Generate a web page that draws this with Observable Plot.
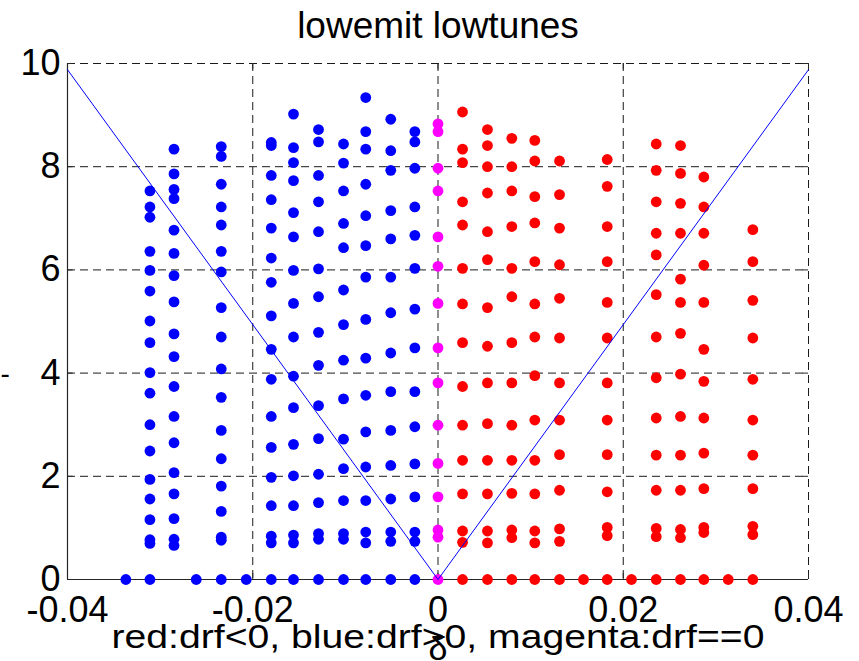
<!DOCTYPE html>
<html><head><meta charset="utf-8">
<script src="https://cdn.jsdelivr.net/npm/d3@7"></script>
<script src="https://cdn.jsdelivr.net/npm/@observablehq/plot@0.6"></script>
<style>html,body{margin:0;padding:0;background:#fff;}</style>
</head><body><div id="chart"></div>
<script>
const titleText = "lowemit lowtunes";
const captionText = "red:drf<0, blue:drf>0, magenta:drf==0";
const xLabelText = "δ";
const yLabelText = "-";
const xTicks = [-0.04, -0.02, 0, 0.02, 0.04];
const xTickLabels = ["-0.04", "-0.02", "0", "0.02", "0.04"];
const yTicks = [0, 2, 4, 6, 8, 10];
const yTickLabels = ["0", "2", "4", "6", "8", "10"];

// blue: drf > 0
const blueX = [-0.0337, -0.0311, -0.0285, -0.0261, -0.0234, -0.0207, -0.0180, -0.0156, -0.0129, -0.0102, -0.0078, -0.0051, -0.0025];
const blueY = [
  [0],
  [7.53, 7.22, 7.02, 6.36, 5.99, 5.59, 5.01, 4.59, 4.01, 3.61, 3.00, 2.49, 1.94, 1.56, 1.16, 0.77, 0.70, 0],
  [8.34, 7.86, 7.56, 7.38, 6.77, 6.32, 5.89, 5.38, 4.76, 4.32, 3.74, 3.16, 2.65, 2.07, 1.66, 1.18, 0.78, 0.66],
  [0],
  [8.39, 8.20, 7.66, 7.22, 6.87, 6.36, 5.96, 5.27, 4.70, 4.08, 3.53, 2.89, 2.34, 1.81, 1.32, 0.82, 0.76, 0],
  [0],
  [8.47, 8.41, 7.83, 7.36, 6.81, 6.23, 5.76, 5.11, 4.46, 3.88, 3.16, 2.56, 1.98, 1.43, 0.84, 0.71, 0],
  [9.02, 8.37, 8.08, 7.73, 7.11, 6.64, 5.99, 5.35, 4.70, 3.94, 3.33, 2.62, 2.01, 1.43, 0.86, 0.71, 0],
  [8.72, 8.48, 7.83, 7.32, 6.74, 6.02, 5.48, 4.79, 4.15, 3.37, 2.73, 2.04, 1.49, 0.89, 0.78, 0],
  [8.44, 8.07, 7.53, 6.90, 6.43, 5.61, 4.94, 4.25, 3.50, 2.72, 2.15, 1.53, 0.89, 0.78, 0],
  [9.34, 8.68, 8.34, 7.66, 7.05, 6.47, 5.86, 5.04, 4.29, 3.57, 2.86, 2.18, 1.53, 0.92, 0.71, 0],
  [8.92, 8.31, 7.93, 7.15, 6.60, 5.86, 5.17, 4.39, 3.64, 2.89, 2.21, 1.56, 0.92, 0.74, 0],
  [8.68, 8.48, 7.97, 7.22, 6.67, 6.03, 5.24, 4.49, 3.64, 2.96, 2.24, 1.60, 0.92, 0.74, 0]
];

// magenta: drf == 0
const magentaX = [0];
const magentaY = [
  [8.83, 8.68, 7.97, 7.53, 6.64, 6.07, 5.35, 4.49, 3.81, 2.99, 2.25, 1.60, 0.96, 0.82, 0]
];

// red: drf < 0
const redX = [0.00265, 0.00534, 0.00797, 0.01045, 0.01312, 0.01571, 0.01827, 0.02089, 0.02356, 0.02618, 0.02870, 0.03133, 0.03399];
const redY = [
  [9.06, 8.34, 8.08, 7.32, 6.87, 6.03, 5.34, 4.59, 3.74, 2.99, 2.31, 1.66, 0.94, 0.72, 0],
  [8.72, 8.41, 8.00, 7.49, 6.74, 6.20, 5.27, 4.52, 3.81, 3.02, 2.31, 1.66, 0.94, 0.71, 0],
  [8.55, 8.00, 7.53, 6.84, 6.03, 5.48, 4.59, 3.81, 2.99, 2.31, 1.67, 0.96, 0.81, 0],
  [8.51, 8.11, 7.42, 6.91, 6.16, 5.34, 4.70, 3.95, 3.09, 2.31, 1.66, 0.94, 0.71, 0],
  [8.11, 7.46, 6.81, 6.10, 5.45, 4.68, 3.81, 3.09, 2.42, 1.73, 0.98, 0.74, 0],
  [0],
  [8.14, 7.62, 6.84, 6.16, 5.37, 4.68, 3.81, 3.09, 2.42, 1.70, 1.01, 0.85, 0],
  [0],
  [8.44, 7.93, 7.32, 6.71, 6.29, 5.52, 4.70, 3.91, 3.13, 2.41, 1.73, 0.99, 0.83, 0],
  [8.41, 7.87, 7.29, 6.71, 5.82, 5.37, 4.77, 3.98, 3.16, 2.41, 1.73, 0.97, 0.81, 0],
  [7.80, 7.22, 6.71, 6.09, 5.37, 4.46, 3.84, 3.13, 2.45, 1.76, 1.01, 0.91, 0],
  [0],
  [6.78, 6.16, 5.41, 4.68, 3.88, 3.09, 2.41, 1.76, 1.03, 0.87, 0]
];

// V-shaped reference line
const lineX = [-0.04, 0, 0.04];
const lineY = [9.88, 0, 9.88];

const toPoints = (xs, yss) => xs.flatMap((x, i) => yss[i].map(y => ({x, y})));
const bluePts = toPoints(blueX, blueY);
const magentaPts = toPoints(magentaX, magentaY);
const redPts = toPoints(redX, redY);
const linePts = lineX.map((x, i) => ({x, y: lineY[i]}));

const font = "'Liberation Sans', Arial, Helvetica, sans-serif";
const gridStyle = {stroke: "#1a1a1a", strokeWidth: 1, strokeDasharray: "8,5"};

const chart = Plot.plot({
  width: 859,
  height: 661,
  marginLeft: 67,
  marginRight: 51,
  marginTop: 63,
  marginBottom: 82,
  style: {fontFamily: font, background: "#fff", color: "#000", overflow: "visible"},
  x: {domain: [-0.04, 0.04]},
  y: {domain: [0, 10]},
  marks: [
    Plot.ruleX(xTicks, gridStyle),
    Plot.ruleY(yTicks, gridStyle),
    Plot.ruleX([xTicks[0]], {stroke: "#262626", strokeWidth: 1.2}),
    Plot.ruleY([yTicks[0]], {stroke: "#262626", strokeWidth: 1.2}),
    Plot.ruleX(xTicks, {x: d => d, y1: 0, y2: 0.12, stroke: "#262626"}),
    Plot.ruleX(xTicks, {x: d => d, y1: 9.88, y2: 10, stroke: "#262626"}),
    Plot.ruleY(yTicks, {y: d => d, x1: -0.04, x2: -0.0394, stroke: "#262626"}),
    Plot.ruleY(yTicks, {y: d => d, x1: 0.0394, x2: 0.04, stroke: "#262626"}),
    Plot.axisX({ticks: xTicks, tickFormat: (d, i) => xTickLabels[i], tickSize: 0, tickPadding: 17, fontSize: 36, label: null}),
    Plot.axisY({ticks: yTicks, tickFormat: (d, i) => yTickLabels[i], tickSize: 0, tickPadding: 7, fontSize: 36, label: null}),
    Plot.dot(bluePts, {x: "x", y: "y", r: 5.4, fill: "#0000ff", stroke: "none"}),
    Plot.dot(redPts, {x: "x", y: "y", r: 5.4, fill: "#ff0000", stroke: "none"}),
    Plot.dot(magentaPts, {x: "x", y: "y", r: 5.4, fill: "#ff00ff", stroke: "none"}),
    Plot.line(linePts, {x: "x", y: "y", stroke: "#0000ff", strokeWidth: 1}),
    Plot.text([titleText], {frameAnchor: "top", lineAnchor: "bottom", dy: -26, fontSize: 37, fill: "#000"}),
    Plot.text([xLabelText], {frameAnchor: "bottom", lineAnchor: "bottom", dy: 80, fontSize: 34, fill: "#000"}),
    Plot.text([captionText], {frameAnchor: "bottom", lineAnchor: "bottom", dy: 68, fontSize: 34, fill: "#000"}),
    Plot.text([yLabelText], {frameAnchor: "left", textAnchor: "start", dx: -67, dy: 53, fontSize: 28, fill: "#000"})
  ]
});
// widen the caption to the reference's horizontal extent
d3.select(chart).selectAll("text")
  .filter(function () { return this.textContent === captionText; })
  .attr("textLength", 653)
  .attr("lengthAdjust", "spacingAndGlyphs");
document.getElementById("chart").appendChild(chart);
</script>
</body></html>
